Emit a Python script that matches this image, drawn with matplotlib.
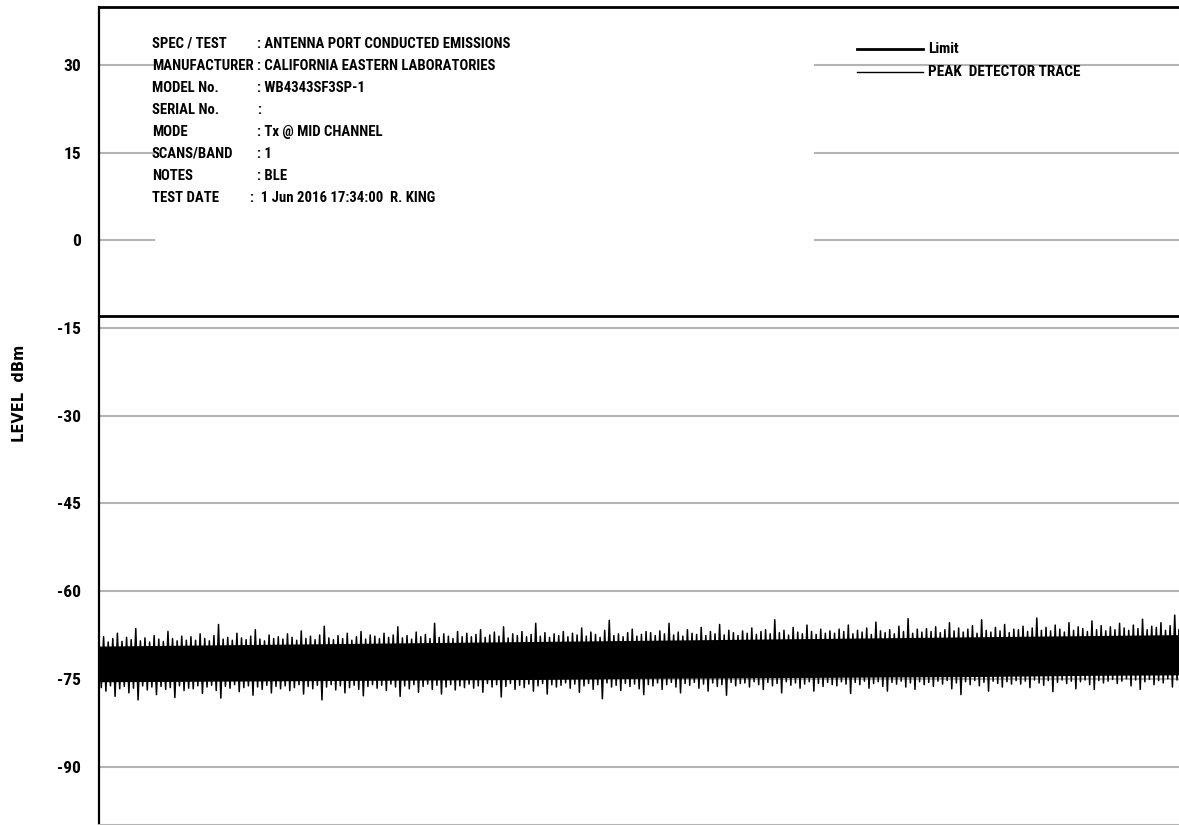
import numpy as np
import matplotlib
matplotlib.use("Agg")
import matplotlib.pyplot as plt

plt.rcParams['font.family'] = ['DejaVu Sans Condensed', 'Liberation Sans Narrow',
                               'Roboto Condensed', 'DejaVu Sans']
plt.rcParams['font.stretch'] = 'condensed'

# ---- data ----
y_ticks = [30, 15, 0, -15, -30, -45, -60, -75, -90]
limit_dbm = -13.0

header_labels = ["SPEC / TEST", "MANUFACTURER", "MODEL No.", "SERIAL No.",
                 "MODE", "SCANS/BAND", "NOTES", "TEST DATE"]
header_values = [": ANTENNA PORT CONDUCTED EMISSIONS",
                 ": CALIFORNIA EASTERN LABORATORIES",
                 ": WB4343SF3SP-1",
                 ":",
                 ": Tx @ MID CHANNEL",
                 ": 1",
                 ": BLE",
                 ":  1 Jun 2016 17:34:00  R. KING"]
legend_labels = ["Limit", "PEAK  DETECTOR TRACE"]

# peak detector trace: local maxima / minima along the sweep (dBm)
trace_upper = [
    -68.4, -67.8, -68.7, -68.1, -67.2, -68.6, -67.9, -68.3, -66.4, -68.5, -68.0, -68.7, -67.6, -68.2, -68.6, -66.9, -68.1, -68.5, -67.7, -68.4,
    -67.8, -68.4, -67.3, -68.1, -68.5, -67.6, -65.7, -68.2, -67.9, -68.4, -67.2, -68.0, -68.3, -67.7, -66.6, -68.2, -68.5, -67.5, -68.1, -67.8,
    -68.2, -67.3, -67.9, -68.4, -66.8, -68.1, -67.7, -68.3, -67.5, -66.0, -68.0, -68.3, -67.6, -68.1, -67.2, -68.4, -67.8, -66.9, -68.2, -67.5,
    -67.7, -68.1, -67.2, -67.9, -67.5, -66.1, -68.0, -67.6, -68.2, -67.0, -67.8, -67.4, -68.1, -65.5, -67.9, -67.3, -67.7, -68.1, -66.9, -67.8,
    -67.2, -67.8, -67.4, -66.6, -67.9, -67.5, -67.0, -67.7, -66.1, -68.0, -67.3, -67.6, -66.9, -67.8, -67.4, -65.5, -67.7, -67.1, -67.9, -67.3,
    -67.6, -66.9, -67.8, -67.2, -67.5, -66.3, -67.7, -67.0, -67.4, -67.9, -66.7, -65.0, -67.6, -67.3, -67.8, -67.1, -66.5, -67.7, -67.4, -66.9,
    -67.1, -67.6, -66.8, -67.3, -65.5, -67.5, -67.0, -67.7, -66.6, -67.2, -67.4, -66.2, -67.6, -66.9, -67.3, -65.7, -67.5, -66.7, -67.1, -67.6,
    -66.8, -67.2, -66.3, -67.4, -66.9, -66.6, -67.3, -64.9, -67.1, -66.7, -67.5, -66.2, -67.0, -67.3, -65.8, -66.9, -67.4, -66.5, -67.2, -66.8,
    -67.2, -66.5, -66.9, -65.8, -67.3, -66.7, -67.0, -66.3, -67.4, -65.3, -66.8, -67.1, -66.6, -67.3, -66.0, -66.9, -64.7, -67.2, -66.5, -67.0,
    -66.4, -66.9, -66.1, -67.1, -66.6, -65.4, -66.8, -66.3, -67.0, -66.5, -65.9, -67.2, -64.9, -66.7, -67.0, -66.2, -66.8, -65.7, -67.1, -66.5,
    -66.6, -66.0, -66.9, -66.3, -64.6, -66.7, -66.2, -66.8, -65.8, -66.5, -67.0, -65.4, -66.7, -66.1, -66.4, -66.9, -65.1, -66.6, -65.9, -66.8,
    -66.1, -66.6, -65.5, -66.3, -66.7, -65.8, -66.4, -64.8, -66.6, -66.0, -66.2, -65.4, -66.7, -65.9, -64.1, -66.5, -66.1, -66.6, -65.7, -66.3,
]
trace_lower = [
    -76.5, -77.1, -76.2, -78.0, -76.7, -76.3, -77.4, -76.6, -78.6, -76.2, -76.9, -76.4, -77.7, -76.3, -76.8, -76.5, -78.2, -76.2, -77.0, -76.6,
    -76.7, -76.2, -77.5, -76.4, -76.1, -77.0, -78.3, -76.3, -76.6, -76.0, -77.2, -76.5, -76.2, -77.8, -76.4, -76.8, -76.1, -77.4, -76.3, -76.7,
    -76.2, -77.0, -76.5, -76.0, -77.6, -76.3, -76.7, -76.1, -78.6, -76.4, -76.0, -76.9, -76.2, -77.4, -76.5, -76.1, -76.8, -77.9, -76.3, -76.0,
    -76.6, -76.1, -77.0, -75.9, -76.4, -78.0, -76.2, -76.7, -76.0, -77.3, -76.3, -75.9, -76.8, -76.1, -77.6, -76.4, -76.0, -76.9, -76.2, -76.5,
    -75.9, -76.6, -76.2, -77.3, -75.8, -76.4, -76.0, -78.1, -76.3, -75.8, -76.8, -76.1, -76.5, -75.9, -77.1, -76.2, -75.8, -77.6, -76.0, -76.4,
    -76.1, -75.7, -76.6, -75.9, -77.3, -76.2, -75.8, -76.8, -76.0, -78.4, -75.7, -76.4, -76.1, -77.0, -75.8, -76.3, -75.9, -76.7, -77.7, -76.0,
    -76.2, -75.7, -76.8, -76.0, -75.6, -76.4, -77.4, -75.8, -76.1, -75.6, -76.6, -75.9, -77.1, -75.7, -76.3, -76.0, -77.8, -75.6, -76.2, -75.8,
    -75.7, -76.4, -75.5, -76.0, -76.8, -75.6, -76.2, -75.8, -77.4, -75.5, -76.1, -75.7, -76.6, -75.9, -75.5, -77.1, -75.8, -76.3, -75.6, -76.0,
    -76.2, -75.5, -75.9, -77.5, -75.6, -76.0, -75.4, -76.6, -75.8, -75.5, -76.3, -77.1, -75.6, -75.9, -75.4, -76.4, -75.7, -76.8, -75.5, -76.0,
    -75.6, -76.3, -75.4, -75.9, -75.3, -76.7, -75.7, -77.7, -75.5, -76.0, -75.3, -76.2, -75.6, -77.1, -75.4, -75.8, -76.4, -75.5, -75.9, -75.3,
    -75.9, -75.4, -76.5, -75.2, -75.7, -76.1, -75.3, -77.2, -75.6, -75.2, -75.8, -75.4, -76.7, -75.5, -75.2, -76.0, -76.8, -75.3, -75.7, -75.4,
    -75.1, -75.8, -75.4, -75.0, -76.2, -75.2, -76.8, -75.5, -75.1, -76.0, -75.3, -75.7, -75.0, -76.4, -75.2, -77.1, -75.4, -75.0, -75.6, -75.2,
]
# solid part of the trace band
core_top = [-69.4, -69.2, -69.0, -68.8, -68.6, -68.4, -68.2, -68.0, -67.8, -67.6, -67.4]
core_bot = [-75.5, -75.4, -75.3, -75.2, -75.1, -74.9, -74.8, -74.7, -74.6, -74.4, -74.3]

W, H = 1179, 825
fig = plt.figure(figsize=(W / 100, H / 100), dpi=100)


def fx(px):
    return px / W


def fy(py):
    return 1 - py / H


# axes runs off the right edge of the sheet
ax = fig.add_axes([fx(99), fy(825), fx(1200) - fx(99), fy(6.5) - fy(825)])
ax.set_xlim(0, 1)
ax.set_ylim(-100, 40)

ax.set_yticks(y_ticks)
ax.set_yticklabels([str(t) for t in y_ticks], fontsize=12.5, fontweight='bold')
ax.tick_params(axis='y', length=0, pad=13)
ax.set_xticks([])
ax.grid(axis='y', color='#b4b4b4', linewidth=1.5)
ax.set_axisbelow(True)

ax.spines['left'].set_linewidth(1.6)
ax.spines['top'].set_linewidth(2.0)
ax.spines['bottom'].set_color('#b4b4b4')
ax.spines['bottom'].set_linewidth(1.5)
ax.spines['right'].set_visible(False)

# blank area behind the header block
ax.axvspan(0.051, 0.649, ymin=0.64, ymax=1.0, color='white', zorder=1, lw=0)

# trace
ax.fill_between(np.linspace(0, 1, len(core_top)), core_bot, core_top,
                color='black', lw=0, zorder=3)
zig = np.column_stack([trace_upper, trace_lower]).ravel()
ax.plot(np.linspace(0, 1, len(zig)), zig, color='black', lw=1.1, zorder=3)

# limit line
ax.axhline(limit_dbm, color='black', lw=2.0, zorder=4)

# header block
for i, (lab, val) in enumerate(zip(header_labels, header_values)):
    yy = fy(44 + 22 * i)
    fig.text(fx(152), yy, lab, fontsize=10.6, fontweight='bold', va='center')
    xv = 250 if lab == "TEST DATE" else 257
    fig.text(fx(xv), yy, val, fontsize=10.6, fontweight='bold', va='center')

# legend
leg_y = [49, 72]
leg_w = [2.0, 1.0]
for lab, yy, lw in zip(legend_labels, leg_y, leg_w):
    fig.add_artist(plt.Line2D([fx(857), fx(923)], [fy(yy), fy(yy)],
                              color='black', lw=lw, transform=fig.transFigure))
    fig.text(fx(928), fy(yy), lab, fontsize=11, va='center',
             fontweight='heavy' if lab == "Limit" else 'bold')

fig.text(fx(20), fy(393), "LEVEL  dBm", rotation=90, fontsize=10.5,
         fontweight='bold', family='DejaVu Sans', fontstretch='normal',
         ha='center', va='center')

fig.savefig("out.png", dpi=100)
